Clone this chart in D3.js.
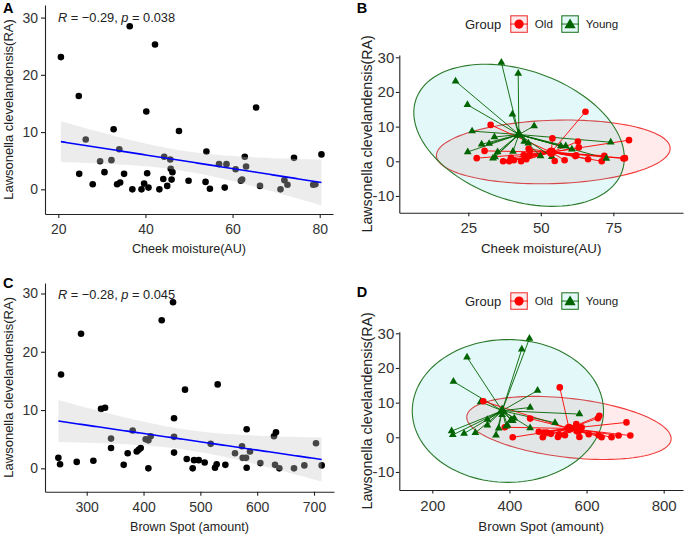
<!DOCTYPE html>
<html><head><meta charset="utf-8">
<script src="https://cdn.jsdelivr.net/npm/d3@7"></script>
<style>body{margin:0;background:#fff} svg{display:block}</style>
</head><body>
<svg id="c" width="685" height="534"></svg>
<script>
// ---------------- data ----------------
const cheek = [20.6,24.7,24.8,26.3,27.9,29.6,30.6,32.2,32.7,33.5,34.0,34.2,35.1,36.4,37.0,39.1,39.7,40.2,40.4,40.7,42.2,43.2,44.1,44.3,45.0,45.7,45.8,46.0,46.2,47.7,49.9,53.8,54.0,54.8,56.9,58.2,58.6,60.7,61.9,62.2,62.8,63.1,65.4,66.3,71.0,71.9,72.6,74.1,78.5,79.0,80.4];
const lawA  = [23.1,16.3,2.7,8.7,0.9,4.9,3.0,5.1,10.5,0.9,7.0,1.2,2.7,28.5,0.0,0.0,1.0,13.6,2.8,0.3,25.3,0.0,1.8,5.7,0.6,5.2,3.6,1.7,3.0,10.2,1.5,1.3,6.6,0.1,4.4,0.3,4.4,3.5,1.5,1.7,5.7,4.0,14.3,0.6,0.0,1.6,0.8,5.5,0.8,0.9,6.1];
const groupA = ["Young","Young","Young","Young","Old","Young","Old","Young","Old","Young","Young","Young","Young","Young","Old","Old","Old","Young","Young","Old","Young","Old","Old","Young","Old","Young","Old","Old","Old","Young","Young","Young","Old","Old","Young","Old","Young","Young","Old","Old","Old","Old","Old","Old","Old","Old","Young","Young","Old","Old","Old"];

const brown = [250.1,253.1,254.8,282.4,290.0,311.7,325.2,332.3,342.8,342.8,365.1,372.1,380.9,388.0,391.5,395.0,403.8,408.5,408.5,412.6,432.0,451.9,453.7,453.7,453.7,473.0,476.0,486.5,488.9,497.1,507.6,518.2,525.8,528.7,530.5,544.0,561.0,573.3,574.5,580.4,581.5,581.5,587.4,605.6,629.6,631.4,633.1,639.0,664.8,683.0,703.5,713.5];
const lawC  = [1.8,0.7,16.1,1.1,23.1,1.3,10.2,10.4,5.1,3.5,0.6,2.6,6.5,2.9,3.2,3.5,5.0,4.8,0.0,5.5,25.4,28.5,8.6,5.4,2.7,13.5,1.6,0.0,1.4,1.4,1.0,4.2,0.1,0.7,14.4,0.6,2.6,3.8,1.8,1.8,6.7,0.1,2.9,0.9,5.5,0.6,6.2,0.0,0.0,0.5,4.3,0.5];
const groupC = ["Young","Young","Young","Young","Young","Young","Young","Old","Young","Young","Young","Young","Young","Old","Young","Young","Young","Young","Old","Young","Young","Young","Young","Old","Young","Young","Old","Old","Old","Old","Old","Young","Old","Old","Old","Old","Old","Old","Old","Old","Young","Old","Old","Old","Old","Old","Old","Old","Old","Old","Old","Old"];

const groups = ["Old","Young"];
// ellipse: [centre x, centre y, x half-extent, y half-extent, correlation]
const ellB_Old   = [54.3, 2.7, 40.3, 9.2, 0.11];
const ellB_Young = [42.5, 7.5, 36.3, 20.5, -0.32];
const ellD_Old   = [554.3, 2.7, 265, 9.1, -0.34];
const ellD_Young = [396, 7.6, 248, 20.6, 0.0];

const statA = ["R", " = \u22120.29, ", "p", " = 0.038"];
const statC = ["R", " = \u22120.28, ", "p", " = 0.045"];

const yTicksAC = [0,10,20,30];
const yTicksBD = [-10,0,10,20,30];
const xTicksA = [20,40,60,80];
const xTicksB = [25,50,75];
const xTicksC = [300,400,500,600,700];
const xTicksD = [200,400,600,800];

const yTitle = "Lawsonella clevelandensis(RA)";
const xTitleCheek = "Cheek moisture(AU)";
const xTitleBrown = "Brown Spot (amount)";
const panelLabels = ["A","B","C","D"];

// ---------------- drawing ----------------
const FONT = "'Liberation Sans', Arial, Helvetica, sans-serif";
const svg = d3.select("#c");
svg.append("rect").attr("width",685).attr("height",534).attr("fill","#fff");
const COL = {Old:"#ff0000", Young:"#006400"};
const ELLFILL = {Old:"#ff0000", Young:"#00BFC4"};
const ELLOP = {Old:0.08, Young:0.11};
const ELLSTROKE = {Old:"#f03a3a", Young:"#2a7a2a"};
const fmt = d => String(d);

function axes(box, x, y, xt, yt, fsTick, tick, padY, padX) {
  const gx = svg.append("g").attr("transform",`translate(0,${box.b})`)
    .call(d3.axisBottom(x).tickValues(xt).tickFormat(fmt).tickSize(tick).tickSizeOuter(0).tickPadding(padX));
  const gy = svg.append("g").attr("transform",`translate(${box.l},0)`)
    .call(d3.axisLeft(y).tickValues(yt).tickFormat(fmt).tickSize(tick).tickSizeOuter(0).tickPadding(padY));
  [gx,gy].forEach(g=>{
    g.select(".domain").attr("stroke","#222").attr("stroke-width",1.1);
    g.selectAll(".tick line").attr("stroke","#222").attr("stroke-width",1.1);
    g.selectAll(".tick text").attr("fill","#333").attr("font-size",fsTick).attr("font-family",FONT);
  });
}
function titles(box, xT, xCy, yCx, fsX, fsY) {
  svg.append("text").attr("x",(box.l+box.r)/2).attr("y",xCy).attr("dy","0.35em")
    .attr("text-anchor","middle").attr("font-family",FONT).attr("font-size",fsX).attr("fill","#222").text(xT);
  svg.append("text").attr("transform",`translate(${yCx},${(box.t+box.b)/2}) rotate(-90)`).attr("dy","0.35em")
    .attr("text-anchor","middle").attr("font-family",FONT).attr("font-size",fsY).attr("fill","#222").text(yTitle);
}
function panelLabel(t, x, y) {
  svg.append("text").attr("x",x).attr("y",y).attr("font-family",FONT).attr("font-weight","bold")
    .attr("font-size",14.5).attr("fill","#000").text(t);
}

function scatterPanel(box, dom, xs, ys, xt, stat, xT, xTitleY, statY) {
  const x = d3.scaleLinear().domain(dom.x).range([box.l, box.r]);
  const y = d3.scaleLinear().domain(dom.y).range([box.b, box.t]);
  const pts = xs.map((v,i)=>({x:v, y:ys[i]}));
  svg.append("g").selectAll("circle").data(pts).join("circle")
    .attr("cx",d=>x(d.x)).attr("cy",d=>y(d.y)).attr("r",3.3).attr("fill","#000");
  // linear regression with 95% CI
  const n = pts.length, mx = d3.mean(xs), my = d3.mean(ys);
  const sxx = d3.sum(xs, v=>(v-mx)*(v-mx));
  const sxy = d3.sum(pts, d=>(d.x-mx)*(d.y-my));
  const b = sxy/sxx, a = my - b*mx;
  const s = Math.sqrt(d3.sum(pts, d=>Math.pow(d.y-(a+b*d.x),2))/(n-2));
  const tq = 2.01;
  const [x0,x1] = d3.extent(xs);
  const grid = d3.range(0,81).map(i=>x0+(x1-x0)*i/80);
  const band = grid.map(v=>{const f=a+b*v, se=s*Math.sqrt(1/n+(v-mx)*(v-mx)/sxx); return {x:v, lo:f-tq*se, hi:f+tq*se, f};});
  svg.append("path").datum(band)
    .attr("d", d3.area().x(d=>x(d.x)).y0(d=>y(d.lo)).y1(d=>y(d.hi)))
    .attr("fill","rgb(200,200,200)").attr("fill-opacity",0.35);
  svg.append("path").datum(band).attr("d", d3.line().x(d=>x(d.x)).y(d=>y(d.f)))
    .attr("fill","none").attr("stroke","#0000ff").attr("stroke-width",1.6);
  axes(box, x, y, xt, yTicksAC, 14, 4, 3, 6);
  titles(box, xT, xTitleY, 8.5, 12.6, 13);
  const t = svg.append("text").attr("x",x(dom.x[0])+13).attr("y",statY)
    .attr("font-family",FONT).attr("font-size",12.8).attr("fill","#222");
  stat.forEach((s,i)=>t.append("tspan").attr("font-style", i%2===0?"italic":"normal").text(s));
}

function ellipsePts(e) {
  const [cx,cy,rx,ry,rho] = e;
  const q = Math.sqrt(1-rho*rho);
  return d3.range(0,121).map(i=>{const t=2*Math.PI*i/120; return [cx+rx*Math.cos(t), cy+ry*(rho*Math.cos(t)+q*Math.sin(t))];});
}

function groupPanel(box, dom, xs, ys, gs, ells, xt, xT, xTitleY, legY) {
  const x = d3.scaleLinear().domain(dom.x).range([box.l, box.r]);
  const y = d3.scaleLinear().domain(dom.y).range([box.b, box.t]);
  const line = d3.line().x(d=>x(d[0])).y(d=>y(d[1])).curve(d3.curveLinearClosed);
  groups.forEach((g,i)=>{
    svg.append("path").attr("d", line(ellipsePts(ells[i])))
      .attr("fill",ELLFILL[g]).attr("fill-opacity",ELLOP[g])
      .attr("stroke",ELLSTROKE[g]).attr("stroke-width",1.1);
  });
  const pts = xs.map((v,i)=>({x:v, y:ys[i], g:gs[i]}));
  const cent = {};
  groups.forEach(g=>{
    const p = pts.filter(d=>d.g===g);
    cent[g] = {x:d3.mean(p,d=>d.x), y:d3.mean(p,d=>d.y)};
  });
  svg.append("g").selectAll("line").data(pts).join("line")
    .attr("x1",d=>x(cent[d.g].x)).attr("y1",d=>y(cent[d.g].y))
    .attr("x2",d=>x(d.x)).attr("y2",d=>y(d.y))
    .attr("stroke",d=>COL[d.g]).attr("stroke-width",0.9);
  const tri = d3.symbol().type(d3.symbolTriangle);
  const gp = svg.append("g");
  pts.forEach(d=>{
    if (d.g==="Old") gp.append("circle").attr("cx",x(d.x)).attr("cy",y(d.y)).attr("r",3.3).attr("fill",COL.Old);
    else gp.append("path").attr("d",tri.size(26)()).attr("transform",`translate(${x(d.x)},${y(d.y)})`).attr("fill",COL.Young);
  });
  svg.append("circle").attr("cx",x(cent.Old.x)).attr("cy",y(cent.Old.y)).attr("r",4.8).attr("fill",COL.Old);
  svg.append("path").attr("d",tri.size(50)()).attr("transform",`translate(${x(cent.Young.x)},${y(cent.Young.y)})`).attr("fill",COL.Young);

  axes(box, x, y, xt, yTicksBD, 15, 3.5, 1.5, 6.5);
  titles(box, xT, xTitleY, 367, 13.3, 14.2);

  // legend
  const ks = 17.5;
  svg.append("text").attr("x",465).attr("y",legY+ks/2).attr("dy","0.35em")
    .attr("font-family",FONT).attr("font-size",13).attr("fill","#222").text("Group");
  const kx = {Old:510.3, Young:561.3};
  groups.forEach(g=>{
    const k = svg.append("g").attr("transform",`translate(${kx[g]},${legY})`);
    k.append("rect").attr("x",0).attr("y",0).attr("width",ks).attr("height",ks)
      .attr("fill","#fff");
    k.append("rect").attr("x",0.5).attr("y",0.5).attr("width",ks-1).attr("height",ks-1)
      .attr("fill",ELLFILL[g]).attr("fill-opacity",ELLOP[g]).attr("stroke",ELLSTROKE[g]).attr("stroke-width",1.1);
    k.append("line").attr("x1",0).attr("x2",ks).attr("y1",ks/2).attr("y2",ks/2)
      .attr("stroke",COL[g]).attr("stroke-width",0.9);
    if (g==="Old") k.append("circle").attr("cx",ks/2).attr("cy",ks/2).attr("r",4.6).attr("fill",COL.Old);
    else k.append("path").attr("d",tri.size(55)()).attr("transform",`translate(${ks/2},${ks/2+1})`).attr("fill",COL.Young);
    k.append("text").attr("x",ks+7).attr("y",ks/2).attr("dy","0.35em")
      .attr("font-family",FONT).attr("font-size",11.6).attr("fill","#222").text(g);
  });
}

const boxA = {l:45,t:5,r:333,b:214},        domA = {x:[16.95,83.05], y:[-4.31,32.2]};
const boxB = {l:399.3,t:55,r:683,b:212.7},  domB = {x:[1.2,99.03],   y:[-14.83,30.66]};
const boxC = {l:45,t:283,r:334,b:491.7},    domC = {x:[226.6,735.2], y:[-4.01,31.8]};
const boxD = {l:399.3,t:331.7,r:683,b:490}, domD = {x:[114.4,850.1], y:[-15.2,30.46]};

scatterPanel(boxA, domA, cheek, lawA, xTicksA, statA, xTitleCheek, 248.3, 22);
groupPanel(boxB, domB, cheek, lawA, groupA, [ellB_Old, ellB_Young], xTicksB, xTitleCheek, 248.3, 15.3);
scatterPanel(boxC, domC, brown, lawC, xTicksC, statC, xTitleBrown, 526.7, 298.8);
groupPanel(boxD, domD, brown, lawC, groupC, [ellD_Old, ellD_Young], xTicksD, xTitleBrown, 526, 292.3);

panelLabel(panelLabels[0], 3, 13.3);
panelLabel(panelLabels[1], 356.7, 13.3);
panelLabel(panelLabels[2], 3, 288.3);
panelLabel(panelLabels[3], 356.7, 296.7);
</script>
</body></html>
